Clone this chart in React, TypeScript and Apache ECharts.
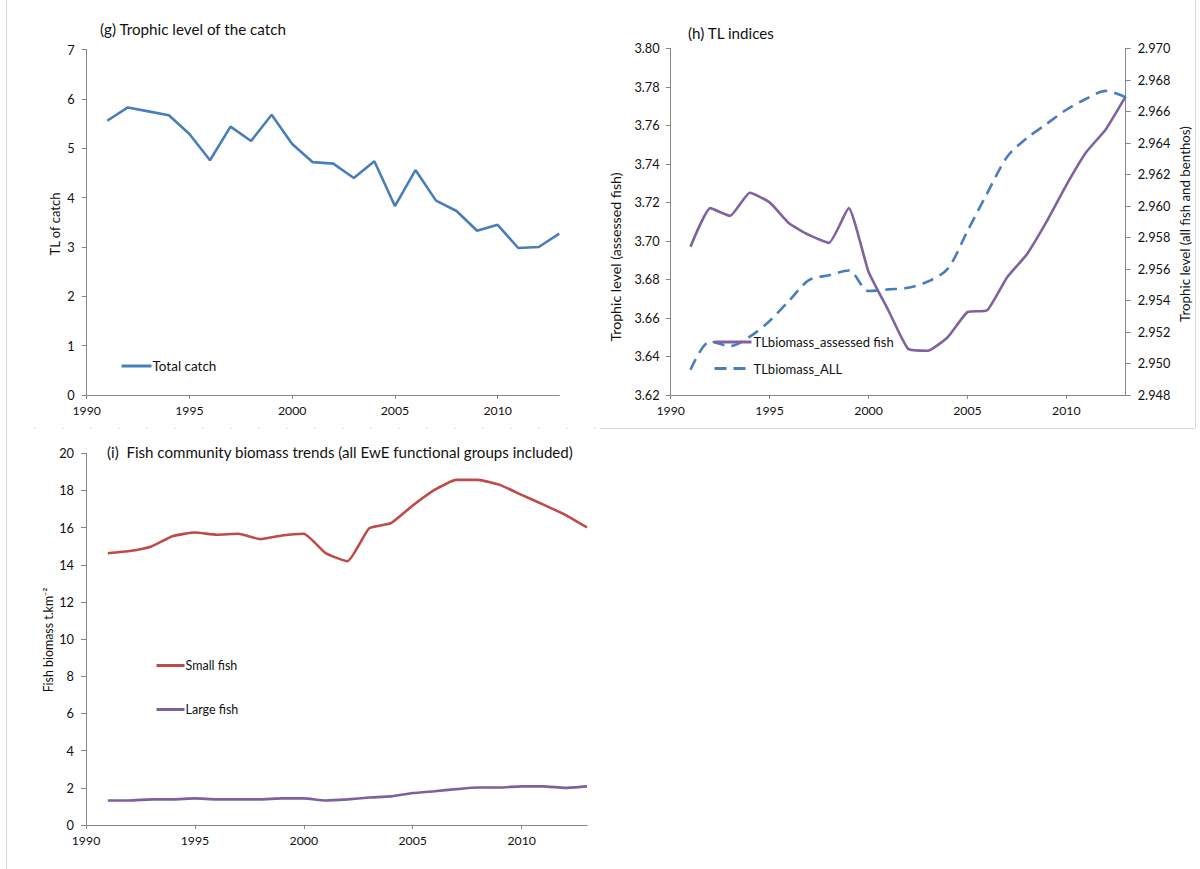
import React, { useEffect, useRef } from "react";
import * as echarts from "echarts";

const years = [1991, 1992, 1993, 1994, 1995, 1996, 1997, 1998, 1999, 2000, 2001, 2002, 2003, 2004, 2005, 2006, 2007, 2008, 2009, 2010, 2011, 2012, 2013];
const xTickValues = [1990, 1995, 2000, 2005, 2010];

// (g) Trophic level of the catch
const totalCatch = [5.56, 5.83, 5.75, 5.67, 5.29, 4.76, 5.44, 5.15, 5.68, 5.09, 4.72, 4.69, 4.40, 4.74, 3.83, 4.56, 3.94, 3.73, 3.33, 3.45, 2.98, 3.00, 3.27];

// (h) TL indices
const tlAssessed = [3.697, 3.717, 3.713, 3.725, 3.720, 3.709, 3.703, 3.699, 3.717, 3.684, 3.664, 3.644, 3.643, 3.650, 3.663, 3.664, 3.681, 3.693, 3.710, 3.729, 3.746, 3.758, 3.775];
const tlAll = [2.9496, 2.9514, 2.9511, 2.9517, 2.9527, 2.9540, 2.9553, 2.9556, 2.9559, 2.9546, 2.9547, 2.9548, 2.9552, 2.9560, 2.9584, 2.9608, 2.9631, 2.9643, 2.9652, 2.9661, 2.9668, 2.9673, 2.9669];

// (i) Fish community biomass
const smallFish = [14.62, 14.74, 14.99, 15.55, 15.74, 15.62, 15.67, 15.38, 15.58, 15.67, 14.63, 14.19, 15.96, 16.24, 17.19, 18.03, 18.57, 18.57, 18.30, 17.76, 17.24, 16.69, 16.01];
const largeFish = [1.32, 1.32, 1.38, 1.38, 1.43, 1.38, 1.38, 1.38, 1.43, 1.43, 1.32, 1.38, 1.48, 1.54, 1.72, 1.82, 1.93, 2.02, 2.02, 2.08, 2.08, 2.00, 2.08];

const FONT = "Lato, 'Open Sans', sans-serif";
const AXIS_COLOR = "#868686";
const TEXT_COLOR = "#111111";

const pairs = (vals: number[]) => years.map((y, i) => [y, vals[i]]);

function xAxis(gridIndex: number) {
  return {
    type: "value",
    gridIndex,
    min: 1990,
    max: 2013,
    interval: 5,
    splitLine: { show: false },
    axisLine: { show: true, lineStyle: { color: AXIS_COLOR, width: 1 } },
    axisTick: { show: true, inside: false, length: 4, lineStyle: { color: AXIS_COLOR }, customValues: xTickValues },
    axisLabel: {
      color: TEXT_COLOR,
      fontFamily: FONT,
      fontSize: 12.3,
      margin: 9,
      customValues: xTickValues,
      formatter: (v: number) => String(Math.round(v)),
    },
  };
}

function yAxis(gridIndex: number, min: number, max: number, interval: number, digits: number, position = "left", margin = 11) {
  return {
    type: "value",
    gridIndex,
    position,
    min,
    max,
    interval,
    splitLine: { show: false },
    axisLine: { show: true, lineStyle: { color: AXIS_COLOR, width: 1 } },
    axisTick: { show: true, inside: false, length: 5, lineStyle: { color: AXIS_COLOR } },
    axisLabel: {
      color: TEXT_COLOR,
      fontFamily: FONT,
      fontSize: 12.8,
      margin,
      formatter: (v: number) => v.toFixed(digits),
    },
  };
}

const legendBase = {
  orient: "vertical",
  itemHeight: 14,
  selectedMode: false,
  itemStyle: { opacity: 0 },
  lineStyle: { width: 3 },
};

export default function App() {
  const ref = useRef<HTMLDivElement>(null);

  useEffect(() => {
    if (!ref.current) return;
    const chart = echarts.init(ref.current, undefined, { renderer: "svg" });

    const option: any = {
      animation: false,
      backgroundColor: "#ffffff",
      grid: [
        { left: 86.7, top: 49.7, width: 472.6, height: 345.3, containLabel: false },
        { left: 670.7, top: 48.3, width: 455, height: 346.7, containLabel: false },
        { left: 86, top: 453.3, width: 501, height: 371.7, containLabel: false },
      ],
      xAxis: [xAxis(0), xAxis(1), xAxis(2)],
      yAxis: [
        yAxis(0, 0, 7, 1, 0, "left", 12),
        yAxis(1, 3.62, 3.8, 0.02, 2, "left", 11),
        yAxis(1, 2.948, 2.97, 0.002, 3, "right", 12),
        yAxis(2, 0, 20, 2, 0, "left", 12),
      ],
      legend: [
        {
          ...legendBase,
          data: ["Total catch"],
          left: 115,
          top: 354,
          itemWidth: 30,
          textStyle: { color: TEXT_COLOR, fontFamily: FONT, fontSize: 13.5, padding: [0, 0, 0, -4] },
        },
        {
          ...legendBase,
          data: ["TLbiomass_assessed fish", "TLbiomass_ALL"],
          left: 708,
          top: 330.5,
          itemWidth: 37,
          itemGap: 13.5,
          textStyle: { color: TEXT_COLOR, fontFamily: FONT, fontSize: 13, padding: [0, 0, 0, -3] },
        },
        {
          ...legendBase,
          data: ["Small fish", "Large fish"],
          left: 150,
          top: 654,
          itemWidth: 28,
          itemGap: 31,
          textStyle: { color: TEXT_COLOR, fontFamily: FONT, fontSize: 12.5, padding: [0, 0, 0, -4] },
        },
      ],
      series: [
        {
          name: "Total catch",
          type: "line",
          xAxisIndex: 0,
          yAxisIndex: 0,
          data: pairs(totalCatch),
          symbol: "none",
          lineStyle: { color: "#4A7EBB", width: 2.6 },
          itemStyle: { color: "#4A7EBB" },
        },
        {
          name: "TLbiomass_assessed fish",
          type: "line",
          xAxisIndex: 1,
          yAxisIndex: 1,
          data: pairs(tlAssessed),
          symbol: "none",
          smooth: 0.15,
          lineStyle: { color: "#7F63A1", width: 2.6 },
          itemStyle: { color: "#7F63A1" },
        },
        {
          name: "TLbiomass_ALL",
          type: "line",
          xAxisIndex: 1,
          yAxisIndex: 2,
          data: pairs(tlAll),
          symbol: "none",
          smooth: 0.3,
          lineStyle: { color: "#4A7EBB", width: 2.6, type: [12, 7] },
          itemStyle: { color: "#4A7EBB" },
        },
        {
          name: "Small fish",
          type: "line",
          xAxisIndex: 2,
          yAxisIndex: 3,
          data: pairs(smallFish),
          symbol: "none",
          smooth: 0.15,
          lineStyle: { color: "#BE4B48", width: 2.6 },
          itemStyle: { color: "#BE4B48" },
        },
        {
          name: "Large fish",
          type: "line",
          xAxisIndex: 2,
          yAxisIndex: 3,
          data: pairs(largeFish),
          symbol: "none",
          smooth: 0.15,
          lineStyle: { color: "#7D60A0", width: 2.6 },
          itemStyle: { color: "#7D60A0" },
        },
      ],
      graphic: [
        // faint panel borders
        { type: "line", shape: { x1: 6.5, y1: 0, x2: 6.5, y2: 869 }, style: { stroke: "#d9d9d9", lineWidth: 1 } },
        { type: "line", shape: { x1: 1195.5, y1: 0, x2: 1195.5, y2: 428 }, style: { stroke: "#d9d9d9", lineWidth: 1 } },
        { type: "line", shape: { x1: 600, y1: 428.5, x2: 1195, y2: 428.5 }, style: { stroke: "#d9d9d9", lineWidth: 1 } },
        { type: "line", shape: { x1: 6, y1: 428.5, x2: 600, y2: 428.5 }, style: { stroke: "#e3e3e3", lineWidth: 1, lineDash: [2, 26] } },
        // titles
        { type: "text", x: 100, y: 29, style: { text: "(g) Trophic level of the catch", font: `15.2px ${FONT}`, fill: TEXT_COLOR, verticalAlign: "middle", align: "left" } },
        { type: "text", x: 688, y: 33, style: { text: "(h) TL indices", font: `15.2px ${FONT}`, fill: TEXT_COLOR, verticalAlign: "middle", align: "left" } },
        { type: "text", x: 107, y: 452, style: { text: "(i)  Fish community biomass trends (all EwE functional groups included)", font: `15.1px ${FONT}`, fill: TEXT_COLOR, verticalAlign: "middle", align: "left" } },
        // axis names
        { type: "text", x: 55, y: 224, rotation: Math.PI / 2, style: { text: "TL of catch", font: `13px ${FONT}`, fill: TEXT_COLOR, verticalAlign: "middle", align: "center" } },
        { type: "text", x: 615, y: 257, rotation: Math.PI / 2, style: { text: "Trophic level (assessed fish)", font: `14.2px ${FONT}`, fill: TEXT_COLOR, verticalAlign: "middle", align: "center" } },
        { type: "text", x: 1185, y: 224, rotation: Math.PI / 2, style: { text: "Trophic level (all fish and benthos)", font: `13.3px ${FONT}`, fill: TEXT_COLOR, verticalAlign: "middle", align: "center" } },
        { type: "text", x: 48, y: 640, rotation: Math.PI / 2, style: { text: "Fish biomass t.km⁻²", font: `12.4px ${FONT}`, fill: TEXT_COLOR, verticalAlign: "middle", align: "center" } },
      ],
    };

    chart.setOption(option);
    return () => chart.dispose();
  }, []);

  return (
    <div
      ref={ref}
      style={{ position: "absolute", left: 0, top: 0, width: 1200, height: 869, background: "#fff" }}
    />
  );
}
